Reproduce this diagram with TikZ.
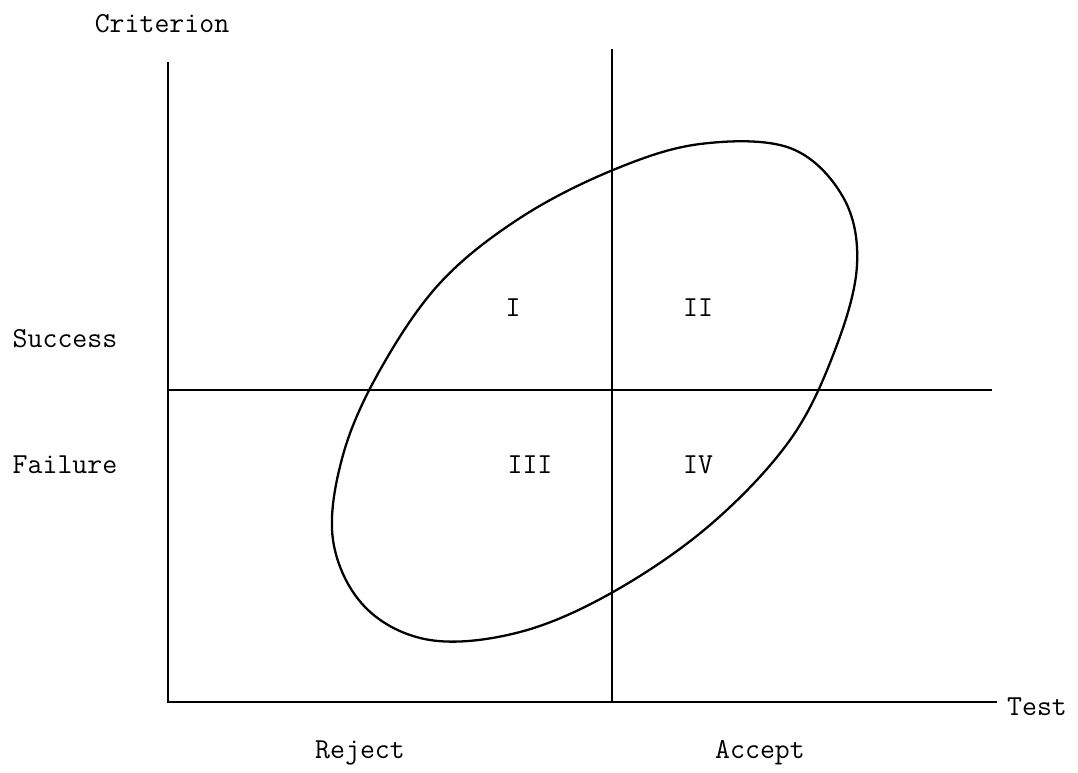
\documentclass[tikz,border=0pt]{standalone}
\usepackage{fontspec}

\begin{document}
\begin{tikzpicture}[x=0.02cm, y=-0.02cm, line width=1.3pt,
    lbl/.style={inner sep=0pt, anchor=base, font=\ttfamily\fontsize{16.5}{19}\selectfont}]
  \useasboundingbox (0,0) rectangle (1078,772);
  \coordinate (O) at (168,702);
  \coordinate (Ytop) at (168,62);
  \coordinate (Xend) at (997,702);
  \coordinate (Vtop) at (612,49);
  \coordinate (Vbot) at (612,702);
  \coordinate (Hl) at (168,390);
  \coordinate (Hr) at (992,390);
  \draw (Ytop) -- (O) -- (Xend);
  \draw (Vtop) -- (Vbot);
  \draw (Hl) -- (Hr);
  % the ellipse, traced by hand
  \draw plot[smooth cycle, tension=0.6] coordinates {
    (613,170) (700,144) (790,148) (843,197) (857,265) (835,350)
    (790,440) (710,525) (613,592) (520,632) (430,640) (365,607)
    (333,540) (343,455) (380,370) (440,283) (520,218)};
  \node[lbl] (crit) at (162,32) {Criterion};
  \node[lbl] (succ) at (65,347) {Success};
  \node[lbl] (fail) at (65,473) {Failure};
  \node[lbl] (rej) at (360,758) {Reject};
  \node[lbl] (acc) at (760,758) {Accept};
  \node[lbl, anchor=base west] (test) at (1006,715) {Test};
  \node[lbl] (q1) at (513,316) {I};
  \node[lbl] (q2) at (698,316) {II};
  \node[lbl] (q3) at (530,473) {III};
  \node[lbl] (q4) at (698,473) {IV};
\end{tikzpicture}
\end{document}
